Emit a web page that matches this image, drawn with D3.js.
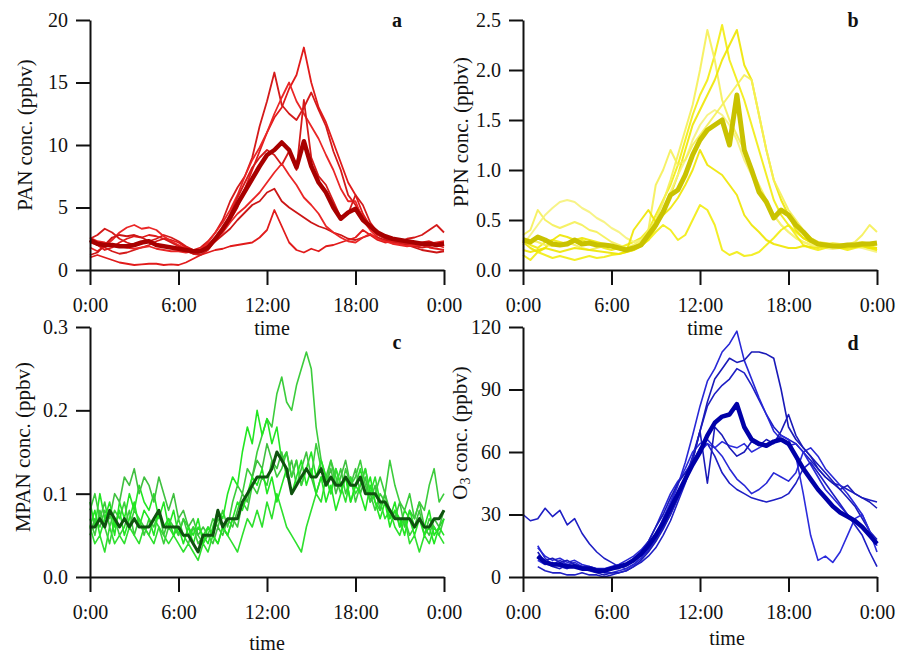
<!DOCTYPE html>
<html><head><meta charset="utf-8">
<script src="https://cdn.jsdelivr.net/npm/d3@7"></script>
<style>
body{margin:0;background:#fff;}
text{font-family:"Liberation Serif","Times New Roman",serif;}
</style></head><body>
<svg id="chart" width="897" height="654"></svg>
<script>
// ---------- time axes ----------
const hours = [0,0.5,1,1.5,2,2.5,3,3.5,4,4.5,5,5.5,6,6.5,7,7.5,8,8.5,9,9.5,10,10.5,11,11.5,12,12.5,13,13.5,14,14.5,15,15.5,16,16.5,17,17.5,18,18.5,19,19.5,20,20.5,21,21.5,22,22.5,23,23.5,24];
const hours20 = [0,0.33,0.67,1,1.33,1.67,2,2.33,2.67,3,3.33,3.67,4,4.33,4.67,5,5.33,5.67,6,6.33,6.67,7,7.33,7.67,8,8.33,8.67,9,9.33,9.67,10,10.33,10.67,11,11.33,11.67,12,12.33,12.67,13,13.33,13.67,14,14.33,14.67,15,15.33,15.67,16,16.33,16.67,17,17.33,17.67,18,18.33,18.67,19,19.33,19.67,20,20.33,20.67,21,21.33,21.67,22,22.33,22.67,23,23.33,23.67,24];
const timeTicks = [0,6,12,18,24];
const timeLabels = ["0:00","6:00","12:00","18:00","0:00"];

// ---------- PAN (ppbv) ----------
const pan1 = [2.4,2.0,1.6,1.8,2.2,2.5,2.7,2.6,2.8,2.7, 2.5,2.4,2.2,1.8,1.6,1.5,1.9,2.6,3.3,4.0, 5.0,6.5,8.0,9.5,11.0,12.2,13.0,14.5,15.6,17.8, 15.0,13.0,11.8,10.2,8.6,7.0,6.0,4.5,3.5,3.0, 2.6,2.4,2.3,2.1,2.0,2.0,1.8,1.7,1.6];
const pan2 = [2.5,2.8,3.3,3.0,2.5,2.2,2.0,2.1,2.3,2.5, 2.8,2.6,2.3,1.9,1.6,1.8,2.3,3.0,4.0,5.5, 6.6,7.5,9.0,11.5,13.5,15.8,13.2,12.5,12.0,13.0, 14.2,12.8,11.5,9.5,8.0,6.0,5.2,4.3,3.4,2.8, 2.5,2.3,2.2,2.5,2.6,2.8,3.2,3.6,3.0];
const pan3 = [1.8,1.5,1.9,2.4,3.0,3.4,3.6,3.3,3.4,3.2, 2.7,2.3,2.0,1.7,1.5,1.6,2.2,3.0,3.8,4.8, 6.0,7.5,8.8,9.8,11.0,12.5,13.8,15.0,13.5,12.5, 11.5,10.5,9.2,8.0,6.5,5.5,5.5,4.0,3.2,2.6, 2.3,2.2,2.1,2.0,1.9,2.0,2.1,2.2,2.3];
const pan4 = [1.2,1.4,2.0,2.6,2.8,2.7,2.8,2.6,2.3,2.0, 1.9,1.8,1.7,1.5,1.3,1.4,1.8,2.3,2.8,3.3, 4.0,4.6,5.2,5.5,6.2,6.5,5.5,5.0,4.6,4.2, 3.8,3.5,3.3,3.0,2.8,2.5,2.4,2.6,2.8,2.6, 2.4,2.3,2.2,2.0,1.8,1.6,1.5,1.4,1.5];
const pan5 = [1.0,1.2,1.0,0.8,0.6,0.5,0.4,0.45,0.5,0.5, 0.4,0.45,0.4,0.6,0.9,1.2,1.4,1.6,1.7,1.9, 2.0,2.1,2.2,2.6,3.2,4.8,3.5,2.2,1.6,1.4, 1.7,1.5,1.9,2.0,2.2,2.4,2.6,3.2,2.8,2.4, 2.2,2.3,2.4,2.3,2.1,2.2,2.3,2.1,2.0];
const pan6 = [2.2,2.0,1.8,1.5,1.3,1.4,1.6,1.8,2.0,2.3, 2.5,2.2,1.9,1.6,1.3,1.2,1.6,2.4,3.2,4.5, 5.8,7.0,8.2,9.0,9.6,9.2,8.4,9.5,8.0,13.6, 9.0,7.5,6.8,5.5,4.2,4.5,6.0,5.2,3.8,3.0, 2.6,2.4,2.2,2.1,1.9,1.8,1.9,2.1,2.2];
const pan7 = [2.6,2.3,2.2,2.0,1.9,1.8,1.7,1.8,1.9,1.7, 1.6,1.5,1.5,1.4,1.5,1.7,2.0,2.5,3.0,3.8, 4.5,5.0,5.6,6.2,7.0,7.8,8.5,7.6,6.8,5.8, 5.2,4.5,3.5,3.0,2.6,2.3,2.2,2.6,2.9,2.5, 2.3,2.1,2.0,1.9,2.0,2.1,2.2,2.0,1.8];
const panMean = [2.4,2.1,2.0,2.0,1.9,1.9,2.0,2.2,2.3,2.0, 1.9,1.8,1.7,1.6,1.5,1.5,1.8,2.5,3.3,4.2, 5.3,6.3,7.3,8.3,9.2,9.6,10.2,9.6,8.2,10.3, 8.3,7.0,6.2,5.0,4.1,4.6,4.9,4.0,3.5,3.0, 2.7,2.5,2.4,2.3,2.2,2.1,2.1,2.0,2.1];
const panTicks = [0,5,10,15,20];

// ---------- PPN (ppbv) ----------
const ppn1 = [0.30,0.25,0.22,0.28,0.30,0.28,0.26,0.28,0.30,0.27, 0.25,0.22,0.20,0.22,0.25,0.28,0.32,0.40,0.55,0.70, 0.85,1.05,1.30,1.55,1.75,1.90,2.15,2.45,2.10,1.90, 1.70,1.45,1.20,0.95,0.70,0.55,0.45,0.38,0.32,0.28, 0.25,0.26,0.25,0.23,0.24,0.26,0.25,0.24,0.22];
const ppn2 = [0.35,0.40,0.60,0.50,0.45,0.42,0.45,0.48,0.45,0.40, 0.38,0.33,0.28,0.25,0.22,0.25,0.30,0.38,0.50,0.68, 0.90,1.15,1.40,1.65,2.00,2.40,2.10,1.70,1.50,1.35, 1.20,1.00,0.85,0.70,0.55,0.45,0.38,0.32,0.28,0.25, 0.24,0.25,0.27,0.26,0.25,0.28,0.35,0.45,0.38];
const ppn3 = [0.28,0.22,0.18,0.22,0.30,0.35,0.33,0.30,0.32,0.30, 0.28,0.26,0.25,0.22,0.18,0.20,0.24,0.30,0.42,0.58, 0.75,0.95,1.20,1.45,1.60,1.75,1.90,2.10,2.25,2.40, 2.05,1.90,1.55,1.20,0.90,0.70,0.55,0.40,0.32,0.28, 0.26,0.25,0.23,0.22,0.24,0.25,0.24,0.22,0.20];
const ppn4 = [0.25,0.35,0.45,0.55,0.62,0.68,0.70,0.68,0.62,0.58, 0.52,0.48,0.42,0.38,0.32,0.28,0.30,0.35,0.45,0.60, 0.78,0.95,1.10,1.30,1.45,1.55,1.60,1.55,1.45,1.30, 1.10,0.95,0.80,0.65,0.55,0.45,0.38,0.32,0.28,0.26, 0.24,0.22,0.21,0.22,0.24,0.23,0.22,0.20,0.18];
const ppn5 = [0.15,0.10,0.18,0.15,0.12,0.14,0.12,0.10,0.12,0.14, 0.12,0.13,0.15,0.16,0.18,0.20,0.24,0.30,0.38,0.45, 0.40,0.30,0.35,0.50,0.65,0.60,0.45,0.20,0.15,0.18, 0.14,0.15,0.18,0.25,0.32,0.40,0.45,0.35,0.25,0.22, 0.20,0.22,0.24,0.22,0.20,0.22,0.24,0.22,0.20];
const ppn6 = [0.32,0.30,0.28,0.25,0.24,0.26,0.28,0.25,0.22,0.20, 0.22,0.24,0.25,0.22,0.20,0.22,0.28,0.40,0.85,1.00, 1.20,1.05,1.10,1.25,1.35,1.45,1.55,1.65,1.75,1.85, 1.95,1.90,1.55,1.20,0.90,0.75,0.60,0.50,0.40,0.32, 0.28,0.27,0.26,0.25,0.26,0.27,0.28,0.26,0.25];
const ppn7 = [0.20,0.18,0.20,0.22,0.20,0.18,0.20,0.22,0.21,0.20, 0.19,0.18,0.17,0.16,0.18,0.40,0.50,0.60,0.48,0.55, 0.62,0.72,0.85,1.00,1.20,1.05,1.00,0.95,0.85,0.75, 0.55,0.45,0.38,0.30,0.26,0.24,0.22,0.22,0.24,0.23, 0.22,0.24,0.23,0.22,0.22,0.23,0.24,0.22,0.22];
const ppnMean = [0.30,0.28,0.33,0.30,0.26,0.25,0.26,0.30,0.26,0.27, 0.25,0.25,0.24,0.22,0.20,0.22,0.25,0.35,0.45,0.58, 0.75,0.80,0.95,1.15,1.30,1.40,1.45,1.50,1.25,1.75, 1.20,1.00,0.78,0.68,0.52,0.60,0.55,0.45,0.38,0.30, 0.26,0.25,0.24,0.24,0.25,0.25,0.26,0.26,0.27];
const ppnTicks = [0,0.5,1.0,1.5,2.0,2.5];

// ---------- MPAN (ppbv), 20-min ----------
const mpan1 = [0.07,0.05,0.08,0.06,0.04,0.07,0.05,0.06,0.08,0.05,0.07,0.06, 0.05,0.07,0.06,0.04,0.06,0.05,0.07,0.05,0.04,0.06,0.05,0.04, 0.05,0.07,0.06,0.08,0.06,0.09,0.11,0.10,0.13,0.12,0.15,0.17, 0.19,0.18,0.22,0.24,0.21,0.20,0.23,0.25,0.27,0.25,0.18,0.14, 0.12,0.14,0.11,0.13,0.10,0.12,0.09,0.11,0.13,0.10,0.08,0.10, 0.09,0.07,0.08,0.06,0.07,0.05,0.06,0.08,0.05,0.07,0.06,0.05,0.07];
const mpan2 = [0.09,0.06,0.10,0.07,0.08,0.05,0.09,0.07,0.10,0.08,0.11,0.09, 0.08,0.10,0.07,0.09,0.06,0.08,0.05,0.07,0.06,0.04,0.06,0.05, 0.04,0.06,0.08,0.07,0.10,0.12,0.11,0.15,0.18,0.16,0.20,0.17, 0.19,0.16,0.18,0.14,0.15,0.12,0.14,0.11,0.13,0.15,0.12,0.14, 0.12,0.10,0.13,0.11,0.12,0.09,0.11,0.13,0.10,0.12,0.09,0.08, 0.10,0.07,0.09,0.06,0.08,0.07,0.05,0.07,0.06,0.08,0.05,0.06,0.07];
const mpan3 = [0.05,0.07,0.06,0.08,0.07,0.10,0.09,0.12,0.11,0.13,0.10,0.12, 0.11,0.09,0.12,0.10,0.08,0.10,0.07,0.08,0.06,0.07,0.05,0.06, 0.05,0.04,0.06,0.05,0.07,0.06,0.08,0.10,0.09,0.12,0.14,0.13, 0.16,0.14,0.13,0.15,0.12,0.14,0.11,0.13,0.15,0.12,0.10,0.12, 0.11,0.13,0.10,0.12,0.14,0.11,0.13,0.10,0.12,0.09,0.11,0.08, 0.10,0.08,0.07,0.09,0.06,0.08,0.07,0.09,0.06,0.05,0.07,0.06,0.08];
const mpan4 = [0.06,0.04,0.05,0.03,0.06,0.04,0.05,0.04,0.06,0.05,0.04,0.06, 0.05,0.04,0.06,0.05,0.04,0.05,0.04,0.03,0.04,0.03,0.02,0.04, 0.03,0.05,0.04,0.06,0.05,0.04,0.03,0.05,0.07,0.06,0.08,0.06, 0.09,0.07,0.10,0.08,0.06,0.05,0.04,0.03,0.06,0.08,0.10,0.09, 0.12,0.10,0.13,0.11,0.09,0.12,0.10,0.11,0.13,0.10,0.12,0.09, 0.07,0.08,0.06,0.05,0.07,0.04,0.05,0.03,0.05,0.04,0.06,0.05,0.04];
const mpan5 = [0.08,0.10,0.07,0.09,0.06,0.08,0.07,0.09,0.06,0.08,0.07,0.05, 0.07,0.06,0.08,0.05,0.07,0.06,0.05,0.07,0.05,0.06,0.04,0.05, 0.06,0.05,0.07,0.06,0.05,0.07,0.06,0.09,0.08,0.11,0.10,0.12, 0.11,0.14,0.12,0.13,0.15,0.12,0.14,0.11,0.13,0.12,0.16,0.13, 0.11,0.14,0.12,0.10,0.13,0.11,0.12,0.14,0.11,0.09,0.10,0.12, 0.10,0.14,0.11,0.09,0.08,0.10,0.07,0.09,0.08,0.11,0.13,0.09,0.10];
const mpan6 = [0.06,0.08,0.05,0.07,0.09,0.06,0.08,0.05,0.07,0.09,0.06,0.08, 0.07,0.05,0.08,0.06,0.07,0.05,0.06,0.04,0.06,0.05,0.07,0.04, 0.06,0.05,0.04,0.06,0.05,0.07,0.09,0.08,0.10,0.12,0.11,0.13, 0.10,0.12,0.09,0.11,0.13,0.10,0.12,0.14,0.11,0.13,0.10,0.12, 0.09,0.11,0.08,0.10,0.12,0.09,0.11,0.10,0.08,0.11,0.09,0.07, 0.09,0.06,0.08,0.07,0.05,0.08,0.06,0.07,0.05,0.06,0.04,0.06,0.05];
const mpanMean = [0.06,0.06,0.07,0.06,0.08,0.07,0.06,0.07,0.06,0.07,0.06,0.06, 0.06,0.07,0.08,0.06,0.06,0.06,0.06,0.05,0.05,0.04,0.03,0.05, 0.05,0.05,0.08,0.06,0.07,0.07,0.07,0.09,0.10,0.11,0.12,0.12, 0.12,0.13,0.15,0.14,0.13,0.10,0.11,0.12,0.13,0.12,0.12,0.13, 0.11,0.12,0.11,0.11,0.12,0.11,0.11,0.12,0.10,0.10,0.10,0.09, 0.09,0.08,0.07,0.07,0.07,0.07,0.06,0.07,0.06,0.06,0.07,0.07,0.08];
const mpanTicks = [0,0.1,0.2,0.3];

// ---------- O3 (ppbv) ----------
const o3a = [30,27,28,33,29,32,25,28,21,16, 12,9,7,5,4,6,9,13,18,24, 30,38,47,58,70,82,88,92,95,100, 98,92,85,78,72,68,66,64,60,56, 52,48,45,44,42,40,38,37,36];
const o3b = [null,null,15,9,6,8,6,7,5,4, 3,2,2,3,4,6,9,14,20,27, 35,44,55,68,82,94,100,108,112,118, 104,95,86,78,70,66,63,64,60,54, 48,42,38,34,30,27,24,20,16];
const o3c = [null,null,12,7,5,4,6,5,4,3, 2,1,2,2,3,5,8,12,17,23, 30,38,46,56,70,84,95,100,105,103, 104,108,108,107,105,90,72,66,62,58, 54,50,46,42,38,34,28,22,18];
const o3d = [null,null,8,6,7,5,4,6,5,4, 3,3,4,5,6,8,11,15,20,28, 36,45,52,60,64,66,62,65,63,62, 64,60,62,64,65,68,66,58,40,20, 8,10,7,12,20,28,30,22,12];
const o3e = [null,null,5,3,2,2,1,1,2,1, 1,0,1,2,3,5,7,10,14,20, 27,36,45,55,62,64,58,50,45,42, 40,38,37,36,37,38,40,45,52,55, 50,45,40,35,30,25,20,12,5];
const o3f = [null,null,14,10,8,9,7,8,6,5, 4,4,5,6,8,10,13,17,24,32, 40,46,50,55,60,64,62,58,52,47, 44,40,42,45,50,48,46,50,60,62, 58,52,48,44,40,35,30,22,15];
const o3g = [null,null,10,8,9,7,8,6,5,5, 4,3,4,4,6,9,12,17,24,30, 38,45,50,56,70,45,72,68,62,58, 60,65,63,66,64,70,78,68,62,58, 52,48,45,42,44,40,38,36,33];
const o3Mean = [null,null,10,7,6,6,5,5,4,4, 3,3,4,5,6,8,11,15,20,26, 33,40,47,54,60,68,74,77,78,83, 72,66,64,63,65,66,64,58,52,47, 42,38,34,31,29,27,24,20,16];
const o3Ticks = [0,30,60,90,120];

// ---------- drawing ----------
const svg = d3.select("#chart");
const FONT = "'Liberation Serif','Times New Roman',serif";

const panels = [
  {left:90, top:20, times:hours, series:[pan1,pan2,pan3,pan4,pan5,pan6,pan7], mean:panMean,
   yDomain:[0,20], yTicks:panTicks, fmt:d3.format("d"), lineWidth:1.8,
   colors:["#e11b1b","#d41a1a","#ea2626","#cc1616"], opacity:1, meanColor:"#a80000", meanWidth:4.5,
   letter:"a", letterX:397, letterY:27, ylab:["PAN conc. (ppbv)"], ylabX:25, ylabY:135, timeX:272, timeY:335},
  {left:523, top:20, times:hours, series:[ppn1,ppn2,ppn3,ppn4,ppn5,ppn6,ppn7], mean:ppnMean,
   yDomain:[0,2.5], yTicks:ppnTicks, fmt:d3.format(".1f"), lineWidth:2,
   colors:["#f2ec10","#f5f055","#eee600","#f6f27a"], opacity:0.9, meanColor:"#c9c200", meanWidth:5,
   letter:"b", letterX:853, letterY:27, ylab:["PPN conc. (ppbv)"], ylabX:461, ylabY:132, timeX:705, timeY:335},
  {left:90, top:327, times:hours20, series:[mpan1,mpan2,mpan3,mpan4,mpan5,mpan6], mean:mpanMean,
   yDomain:[0,0.3], yTicks:mpanTicks, fmt:d3.format(".1f"), lineWidth:1.6,
   colors:["#3ccc3c","#22e622","#40c040","#2ee02e"], opacity:1, meanColor:"#0f520f", meanWidth:3,
   letter:"c", letterX:397, letterY:349, ylab:["MPAN conc. (ppbv)"], ylabX:23, ylabY:447, timeX:267, timeY:650},
  {left:523, top:327, times:hours, series:[o3a,o3b,o3c,o3d,o3e,o3f,o3g], mean:o3Mean,
   yDomain:[0,120], yTicks:o3Ticks, fmt:d3.format("d"), lineWidth:1.6,
   colors:["#1e1ec4","#2828d6","#1a1ab8","#2c2cdc"], opacity:1, meanColor:"#0000a8", meanWidth:4.5,
   letter:"d", letterX:853, letterY:350, ylab:null, ylabX:460, ylabY:433, timeX:727, timeY:645}
];

panels.forEach(p => {
  const x = d3.scaleLinear().domain([0,24]).range([p.left, p.left + 354]);
  const y = d3.scaleLinear().domain(p.yDomain).range([p.top + 250, p.top]);
  const g = svg.append("g");
  const lineGen = d3.line()
    .defined(d => d != null)
    .x((d, i) => x(p.times[i]))
    .y(d => y(d));
  p.series.forEach((s, j) => {
    g.append("path").datum(s)
      .attr("d", lineGen)
      .attr("fill", "none")
      .attr("stroke", p.colors[j % p.colors.length])
      .attr("stroke-opacity", p.opacity)
      .attr("stroke-width", p.lineWidth)
      .attr("stroke-linejoin", "round");
  });
  g.append("path").datum(p.mean)
    .attr("d", lineGen)
    .attr("fill", "none")
    .attr("stroke", p.meanColor)
    .attr("stroke-width", p.meanWidth)
    .attr("stroke-linejoin", "round");

  const yAxis = d3.axisLeft(y).tickValues(p.yTicks).tickFormat(p.fmt)
    .tickSize(14).tickSizeOuter(0).tickPadding(8);
  const ya = g.append("g").attr("transform", `translate(${p.left},0)`).call(yAxis);
  const xAxis = d3.axisBottom(x).tickValues(timeTicks).tickFormat((d, i) => timeLabels[i])
    .tickSize(15).tickSizeOuter(0).tickPadding(13);
  const xa = g.append("g").attr("transform", `translate(0,${p.top + 250})`).call(xAxis);
  [ya, xa].forEach(a => {
    a.attr("font-family", FONT).attr("font-size", 20);
    a.select(".domain").attr("stroke", "#111").attr("stroke-width", 2);
    a.selectAll(".tick line").attr("stroke", "#111").attr("stroke-width", 2);
    a.selectAll(".tick text").attr("fill", "#111");
  });

  g.append("text").attr("x", p.letterX).attr("y", p.letterY)
    .attr("text-anchor", "middle").attr("font-family", FONT)
    .attr("font-size", 20).attr("font-weight", "bold").attr("fill", "#111").text(p.letter);
  g.append("text").attr("x", p.timeX).attr("y", p.timeY)
    .attr("text-anchor", "middle").attr("font-family", FONT)
    .attr("font-size", 20).attr("fill", "#111").text("time");
  const yl = g.append("text")
    .attr("transform", `translate(${p.ylabX},${p.ylabY}) rotate(-90)`)
    .attr("text-anchor", "middle").attr("dominant-baseline", "central")
    .attr("font-family", FONT).attr("font-size", 21).attr("fill", "#111");
  if (p.ylab) {
    yl.text(p.ylab[0]);
  } else {
    yl.append("tspan").text("O");
    yl.append("tspan").attr("font-size", 14).attr("dy", 5).text("3");
    yl.append("tspan").attr("dy", -5).text(" conc. (ppbv)");
  }
});
</script>
</body></html>
